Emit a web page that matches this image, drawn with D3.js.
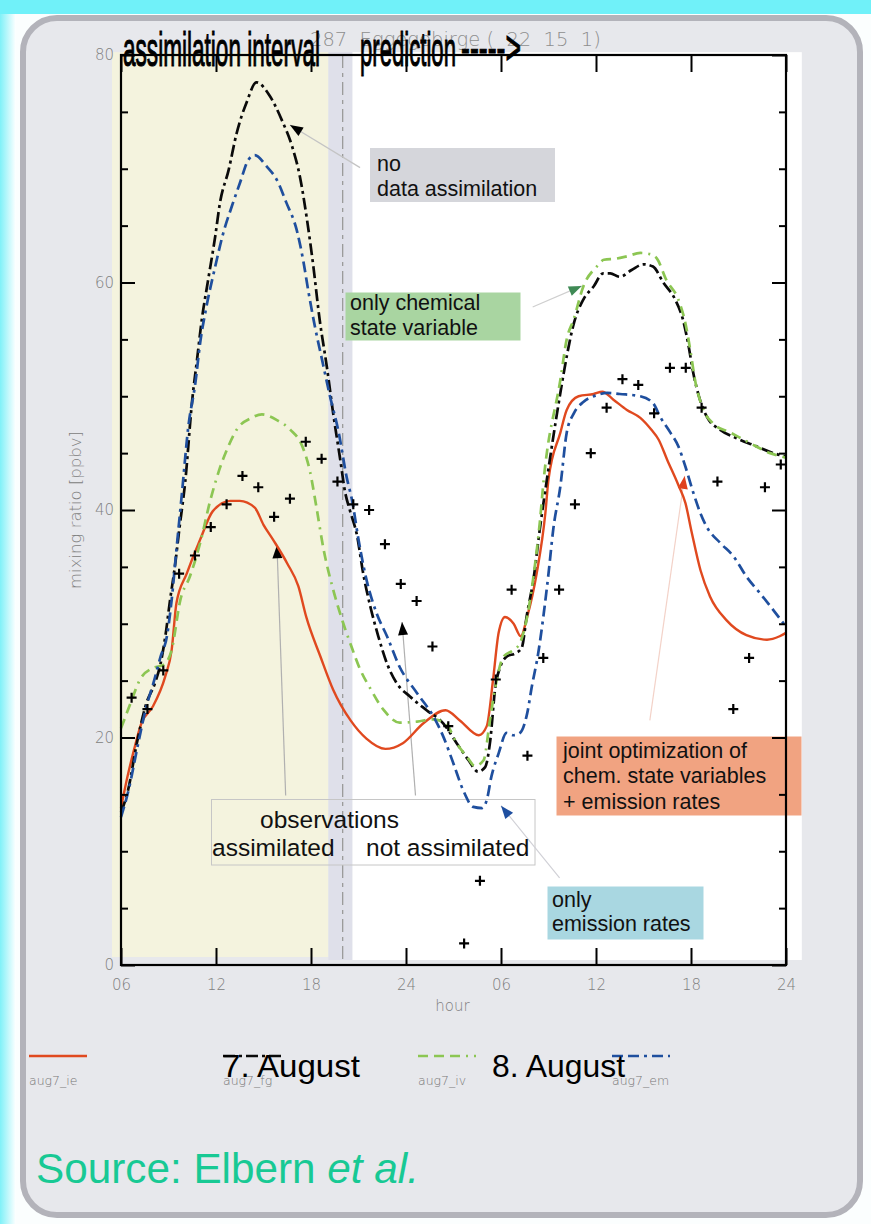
<!DOCTYPE html>
<html><head><meta charset="utf-8">
<script src="https://cdn.jsdelivr.net/npm/d3@7/dist/d3.min.js"></script>
<style>body{margin:0;background:#fff;} svg{display:block;}</style>
</head><body>
<svg id="chart" width="871" height="1224"></svg>
<script>
// ---------------- data ----------------
const hourTicks = [6, 12, 18, 24, 30, 36, 42, 48];
const hourLabels = ["06", "12", "18", "24", "06", "12", "18", "24"];
const yMajor = [0, 20, 40, 60, 80];
const yMinor = [5, 10, 15, 25, 30, 35, 45, 50, 55, 65, 70, 75];

const obsHours = [6.67, 7.67, 8.67, 9.67, 10.67, 11.67, 12.67, 13.67, 14.67, 15.67, 16.67, 17.67, 18.67, 19.67,
  20.67, 21.67, 22.67, 23.67, 24.67, 25.67, 26.67, 27.67, 28.67, 29.67, 30.67, 31.67, 32.67, 33.67,
  34.67, 35.67, 36.67, 37.67, 38.67, 39.67, 40.67, 41.67, 42.67, 43.67, 44.67, 45.67, 46.67, 47.67];
const obsValues = [23.5, 22.5, 25.9, 34.4, 36.0, 38.5, 40.5, 43.0, 42.0, 39.4, 41.0, 46.0, 44.5, 42.5,
  40.5, 40.0, 37.0, 33.5, 32.0, 28.0, 21.0, 1.9, 7.4, 25.1, 33.0, 18.4, 27.0, 33.0,
  40.5, 45.0, 49.0, 51.5, 51.0, 48.5, 52.5, 52.5, 49.0, 42.5, 22.5, 27.0, 42.0, 44.0];

// aug7_ie : joint optimization (red solid)
const aug7_ie = [[6,13.8],[6.4,16.5],[6.8,18.8],[7.3,21.3],[8.0,22.7],[8.8,25.4],[9.2,27.7],[9.5,31.8],[10.15,34.4],
  [11,37.4],[11.8,39.9],[12.9,40.8],[13.5,40.8],[14.45,40.2],[15,38.7],[15.6,37.4],[16.5,35.3],[17.2,33.3],[17.7,30.6],
  [18.6,27.1],[19.4,24.2],[20.5,21.5],[21.5,19.9],[22.7,19.0],[23.8,19.5],[25.1,21.25],[26.5,22.4],[27.4,21.5],
  [28.6,20.2],[29.1,21.0],[29.5,25.1],[29.85,29.2],[30.25,30.6],[30.8,30.0],[31.25,28.9],[31.65,30.6],[32.25,34.4],
  [32.8,39.7],[33.0,42.7],[33.75,46.8],[34.15,48.8],[34.9,50.0],[35.85,50.2],[36.4,50.4],[37.1,49.7],[37.95,48.8],
  [38.8,48.1],[39.5,47.05],[39.95,46.2],[40.5,44.4],[41.2,42.2],[41.65,40.6],[42.05,38.0],[42.6,34.7],[43.2,32.4],
  [44.25,30.3],[45.5,29.0],[46.8,28.6],[47.6,28.9],[48,29.2]];
// aug7_fg : no data assimilation (black dash-dot)
const aug7_fg = [[6,13.4],[6.45,15.4],[7,19.5],[7.6,23.0],[8.15,24.8],[8.5,26.5],[8.8,28.9],[9.1,32.1],[9.4,35.0],
  [9.7,38.5],[10.05,42.4],[10.5,49.7],[10.8,53.2],[11.1,56.7],[11.5,60.2],[11.95,64.05],[12.25,67.0],[12.8,69.9],
  [13.3,73.1],[13.95,75.9],[14.55,77.6],[15.4,76.4],[16.15,74.3],[16.8,72.0],[17.3,69.3],[17.75,65.5],[18.15,61.4],
  [18.55,56.7],[19.0,52.6],[19.4,48.5],[19.85,44.4],[20.15,41.6],[20.45,40.0],[20.9,37.8],[21.3,34.4],[21.75,31.5],
  [22.25,28.9],[22.8,26.5],[23.4,24.8],[24.25,23.6],[25.3,22.4],[26.35,21.25],[27.2,19.5],[27.95,18.0],[28.55,17.0],
  [29.0,17.4],[29.3,19.5],[29.65,24.5],[29.95,26.2],[30.35,27.1],[30.9,27.4],[31.3,27.85],[31.65,30.9],[32.05,33.9],
  [32.45,38.3],[32.9,42.7],[33.75,50.3],[34.15,53.5],[34.6,56.4],[35.2,58.5],[35.85,59.65],[36.45,60.8],[36.9,60.8],
  [37.5,60.5],[38.25,61.1],[39.0,61.6],[39.6,61.4],[40.25,60.0],[41.0,58.5],[41.5,56.7],[41.85,54.4],[42.15,52.0],
  [42.5,50.0],[43.0,48.2],[43.85,47.05],[44.9,46.3],[45.95,45.7],[47.2,45.0],[48,44.7]];
// aug7_iv : only chemical state variable (green dashed)
const aug7_iv = [[6,20.8],[6.6,23.0],[7.2,25.1],[8.0,26.1],[8.7,26.4],[9.2,27.7],[9.75,32.1],[10.35,34.15],[11,37.1],
  [11.65,40.9],[12.2,43.5],[12.75,45.5],[13.3,47.05],[14.25,48.1],[14.9,48.4],[15.85,47.9],[16.7,47.05],[17.45,45.6],
  [17.95,43.3],[18.3,40.6],[18.8,36.5],[19.4,33.0],[20.0,30.2],[20.5,28.2],[21.1,26.0],[21.75,24.3],[22.6,22.4],
  [23.6,21.3],[24.7,21.4],[25.7,21.6],[26.5,21.25],[27.2,19.5],[27.85,18.3],[28.35,17.5],[28.9,18.0],[29.3,21.5],
  [29.65,24.5],[30.15,27.1],[30.8,27.7],[31.2,28.3],[31.65,30.6],[32.05,34.15],[32.45,38.9],[32.7,42.7],[33.75,51.45],
  [34.15,55.0],[34.6,56.8],[35.2,59.65],[36.05,61.4],[36.5,62.0],[37.3,62.1],[37.95,62.3],[38.8,62.6],[39.4,62.5],
  [39.85,62.1],[40.45,60.2],[41.2,58.5],[41.65,56.4],[41.95,54.1],[42.25,51.45],[42.7,49.1],[43.4,47.6],[44.5,46.8],
  [45.7,45.9],[47.0,45.0],[48,44.6]];
// aug7_em : only emission rates (blue dash-dot)
const aug7_em = [[6,13.0],[6.5,15.5],[7,18.9],[7.6,22.7],[8.05,24.8],[8.5,27.1],[8.9,28.9],[9.2,32.1],[9.5,36.5],
  [9.85,41.5],[10.25,47.3],[10.7,51.2],[11,54.7],[11.4,57.9],[11.95,61.4],[12.45,64.3],[13.0,66.7],[13.5,68.7],
  [14.05,70.8],[14.45,71.2],[15.2,70.2],[15.85,69.0],[16.45,67.0],[17.1,64.6],[17.5,62.0],[17.85,59.1],[18.25,56.1],
  [18.7,53.2],[19.2,50.0],[19.75,46.8],[20.25,42.9],[20.6,40.8],[21.0,37.4],[21.5,33.9],[22.15,30.9],[22.8,28.9],
  [23.6,26.2],[24.7,23.9],[25.75,21.8],[26.35,20.1],[27.0,17.7],[27.6,15.4],[28.25,13.9],[28.8,13.8],[29.1,14.5],
  [29.4,16.6],[29.85,18.6],[30.35,20.4],[30.8,20.2],[31.2,20.4],[31.65,22.1],[31.95,24.5],[32.35,27.4],[32.7,30.9],
  [33.0,34.4],[33.3,38.3],[33.75,42.1],[34.15,46.8],[34.6,48.5],[35.2,49.5],[36.05,50.1],[36.7,50.3],[37.5,50.2],
  [38.8,50.0],[39.6,49.4],[40.05,48.2],[40.7,46.8],[41.2,45.6],[41.65,43.8],[42.15,41.5],[42.6,39.7],[43.0,38.5],
  [43.85,37.1],[44.7,35.9],[45.5,34.15],[46.35,32.7],[47.2,31.2],[48,29.75]];

const seriesNames = ["aug7_ie", "aug7_fg", "aug7_iv", "aug7_em"];
const seriesData = [aug7_ie, aug7_fg, aug7_iv, aug7_em];

// ---------------- styles / layout ----------------
const seriesStyle = {
  aug7_ie: {color: "#e0491f", width: 2.4, dash: null},
  aug7_fg: {color: "#0a0a0a", width: 2.7, dash: "12,4,3,4"},
  aug7_iv: {color: "#8cc653", width: 2.7, dash: "10,6,10,6,10,6,2,6"},
  aug7_em: {color: "#1f4f9e", width: 2.7, dash: "11,5,11,5,3,5"}
};

const svg = d3.select("#chart");
const X = d3.scaleLinear().domain([6, 48]).range([121, 786]);
const Y = d3.scaleLinear().domain([0, 80]).range([965, 55]);

const defs = svg.append("defs");
const lg = defs.append("linearGradient").attr("id", "leftGrad").attr("x1", 0).attr("x2", 1).attr("y1", 0).attr("y2", 0);
lg.append("stop").attr("offset", "0%").attr("stop-color", "#7ff1f8");
lg.append("stop").attr("offset", "100%").attr("stop-color", "#ffffff");

// page background
svg.append("rect").attr("width", 871).attr("height", 1224).attr("fill", "#fbfefe");
svg.append("rect").attr("x", 0).attr("y", 0).attr("width", 16).attr("height", 1224).attr("fill", "url(#leftGrad)");
svg.append("rect").attr("x", 0).attr("y", 0).attr("width", 871).attr("height", 14).attr("fill", "#70f1f9");
svg.append("rect").attr("x", 23).attr("y", 18).attr("width", 837).attr("height", 1197).attr("rx", 34)
  .attr("fill", "#e7e8ec").attr("stroke", "#b3b3ba").attr("stroke-width", 6);

// plot shading regions
const regions = [
  {from: 5.43, to: 19.1, top: 80.25, bottom: 0.7, fill: "#f4f3de"},
  {from: 19.1, to: 20.62, top: 80.25, bottom: 0.44, fill: "#dfe0ea"},
  {from: 20.62, to: 49.0, top: 80.25, bottom: 0.44, fill: "#ffffff"}
];
svg.append("g").selectAll("rect").data(regions).join("rect")
  .attr("x", d => X(d.from)).attr("width", d => X(d.to) - X(d.from))
  .attr("y", d => Y(d.top)).attr("height", d => Y(d.bottom) - Y(d.top))
  .attr("fill", d => d.fill);

// station title (gray, behind)
svg.append("text").attr("x", 310).attr("y", 46)
  .attr("font-family", "DejaVu Sans").attr("font-weight", 200).attr("font-size", 19.5)
  .attr("fill", "#8e8e8e").style("white-space", "pre")
  .text("287  Eggegebirge (  22  15  1)");

// vertical separator at hour 20
svg.append("line").attr("x1", X(20)).attr("x2", X(20)).attr("y1", Y(80)).attr("y2", Y(0))
  .attr("stroke", "#9a9a9a").attr("stroke-width", 1.3).attr("stroke-dasharray", "13,5,4,5");

// observations box (transparent)
svg.append("rect").attr("x", 211.5).attr("y", 799.5).attr("width", 323.5).attr("height", 65.5)
  .attr("fill", "none").attr("stroke", "#c6c6c6").attr("stroke-width", 1);

// arrows (annotation lines)
const arrows = [
  {from: [21.1, 70.1], to: [16.67, 73.85], line: "#c4c4c4", head: "#000"},
  {from: [32.0, 57.85], to: [35.1, 59.7], line: "#cfcfcf", head: "#3f8a55"},
  {from: [39.4, 21.5], to: [41.6, 43.0], line: "#f3d2c8", head: "#e0401c"},
  {from: [33.7, 7.65], to: [30.0, 14.0], line: "#d0d0d6", head: "#1f4fa0"},
  {from: [16.4, 14.9], to: [15.85, 36.9], line: "#b0b0b0", head: "#000"},
  {from: [24.6, 14.9], to: [23.75, 30.15], line: "#b0b0b0", head: "#000"}
];
const gArr = svg.append("g");
arrows.forEach(a => {
  const x1 = X(a.from[0]), y1 = Y(a.from[1]), x2 = X(a.to[0]), y2 = Y(a.to[1]);
  gArr.append("line").attr("x1", x1).attr("y1", y1).attr("x2", x2).attr("y2", y2)
    .attr("stroke", a.line).attr("stroke-width", 1.2);
  const ang = Math.atan2(y2 - y1, x2 - x1) * 180 / Math.PI;
  gArr.append("path").attr("d", "M0,0 L-13,-5 L-13,5 Z")
    .attr("transform", `translate(${x2},${y2}) rotate(${ang})`).attr("fill", a.head);
});

// series lines
const line = d3.line().x(d => X(d[0])).y(d => Y(d[1])).curve(d3.curveMonotoneX);
const gLines = svg.append("g");
seriesNames.forEach((name, i) => {
  const st = seriesStyle[name];
  gLines.append("path").datum(seriesData[i]).attr("d", line)
    .attr("fill", "none").attr("stroke", st.color).attr("stroke-width", st.width)
    .attr("stroke-dasharray", st.dash).attr("stroke-linejoin", "round");
});

// observation crosses
const obs = obsHours.map((h, i) => [h, obsValues[i]]);
svg.append("g").selectAll("path").data(obs).join("path")
  .attr("d", d => `M${X(d[0]) - 5},${Y(d[1])}H${X(d[0]) + 5}M${X(d[0])},${Y(d[1]) - 5}V${Y(d[1]) + 5}`)
  .attr("stroke", "#000").attr("stroke-width", 2.2).attr("fill", "none");

// annotation text boxes
const boxFont = "'Liberation Sans', Arial, sans-serif";
const boxes = [
  {x: 370, y: 148, w: 185, h: 54, fill: "#d5d6db", tx: 377, lines: ["no", "data assimilation"], base: [171, 196]},
  {x: 345.5, y: 292.5, w: 175, h: 48, fill: "#a9d5a1", tx: 350, lines: ["only chemical", "state variable"], base: [310, 335]},
  {x: 556.5, y: 736.5, w: 245, h: 79, fill: "#f1a381", tx: 563, lines: ["joint optimization of", "chem. state variables", "+ emission rates"], base: [758, 783, 809]},
  {x: 547.5, y: 886.5, w: 156, h: 53, fill: "#a9d7e1", tx: 552, lines: ["only", "emission rates"], base: [907, 931]}
];
const gBox = svg.append("g");
boxes.forEach(b => {
  gBox.append("rect").attr("x", b.x).attr("y", b.y).attr("width", b.w).attr("height", b.h).attr("fill", b.fill);
  b.lines.forEach((t, i) => {
    gBox.append("text").attr("x", b.tx).attr("y", b.base[i]).attr("font-family", boxFont)
      .attr("font-size", 21.5).attr("fill", "#111").text(t);
  });
});
const obsText = [
  {x: 260, y: 828, t: "observations"},
  {x: 212, y: 856, t: "assimilated"},
  {x: 366, y: 856, t: "not assimilated"}
];
svg.append("g").selectAll("text").data(obsText).join("text")
  .attr("x", d => d.x).attr("y", d => d.y).attr("font-family", boxFont).attr("font-size", 24.5)
  .attr("fill", "#111").text(d => d.t);

// axes
const tickFont = "DejaVu Sans";
const gAx = svg.append("g");
const styleAxis = g => {
  g.select(".domain").remove();
  g.selectAll(".tick line").attr("stroke", "#000").attr("stroke-width", 2);
  g.selectAll(".tick text").attr("font-family", tickFont).attr("font-weight", 200)
    .attr("font-size", 15).attr("fill", "#808080");
};
gAx.append("g").attr("transform", `translate(${X(6)},0)`)
  .call(d3.axisLeft(Y).tickValues(yMinor).tickSize(-7).tickFormat("")).call(styleAxis);
gAx.append("g").attr("transform", `translate(${X(6)},0)`)
  .call(d3.axisLeft(Y).tickValues(yMajor).tickSize(-14).tickPadding(7).tickFormat(d3.format("d"))).call(styleAxis);
gAx.append("g").attr("transform", `translate(${X(48)},0)`)
  .call(d3.axisRight(Y).tickValues(yMinor).tickSize(-7).tickFormat("")).call(styleAxis);
gAx.append("g").attr("transform", `translate(${X(48)},0)`)
  .call(d3.axisRight(Y).tickValues(yMajor).tickSize(-14).tickFormat("")).call(styleAxis);
gAx.append("g").attr("transform", `translate(0,${Y(0)})`)
  .call(d3.axisBottom(X).tickValues(hourTicks).tickSize(-17).tickPadding(14).tickFormat((d, i) => hourLabels[i])).call(styleAxis);
gAx.append("g").attr("transform", `translate(0,${Y(80)})`)
  .call(d3.axisTop(X).tickValues(hourTicks).tickSize(-17).tickFormat("")).call(styleAxis);
svg.append("rect").attr("x", X(6)).attr("y", Y(80)).attr("width", X(48) - X(6)).attr("height", Y(0) - Y(80))
  .attr("fill", "none").attr("stroke", "#000").attr("stroke-width", 2.2);

// axis titles
svg.append("text").attr("x", (X(6) + X(48)) / 2 - 1).attr("y", 1011).attr("text-anchor", "middle")
  .attr("font-family", tickFont).attr("font-weight", 200).attr("font-size", 15).attr("fill", "#808080").text("hour");
svg.append("text").attr("transform", `translate(81,${(Y(0) + Y(80)) / 2}) rotate(-90)`).attr("text-anchor", "middle")
  .attr("font-family", tickFont).attr("font-weight", 200).attr("font-size", 16).attr("fill", "#808080")
  .attr("textLength", 158).attr("lengthAdjust", "spacingAndGlyphs").text("mixing ratio [ppbv]");

// big header texts
const bigFont = "'Liberation Sans', Arial, sans-serif";
const headers = [
  {x: 123, y: 66, len: 197, t: "assimilation interval"},
  {x: 360, y: 66, len: 96, t: "prediction"},
  {x: 461, y: 64, len: 60, t: "----->"}
];
svg.append("g").selectAll("text").data(headers).join("text")
  .attr("x", d => d.x).attr("y", d => d.y).attr("font-family", bigFont).attr("font-size", 48)
  .attr("textLength", d => d.len).attr("lengthAdjust", "spacingAndGlyphs")
  .attr("fill", "#000").attr("stroke", "#000").attr("stroke-width", 1.1).text(d => d.t);

// legend
const legendX = [29, 223, 418, 612];
const gLeg = svg.append("g");
seriesNames.forEach((name, i) => {
  const st = seriesStyle[name];
  gLeg.append("line").attr("x1", legendX[i]).attr("x2", legendX[i] + 58).attr("y1", 1056).attr("y2", 1056)
    .attr("stroke", st.color).attr("stroke-width", st.width).attr("stroke-dasharray", st.dash);
  gLeg.append("text").attr("x", legendX[i]).attr("y", 1085).attr("font-family", tickFont).attr("font-weight", 200)
    .attr("font-size", 12.5).attr("fill", "#777").text(name);
});
const dayLabels = [{x: 222, len: 138, t: "7. August"}, {x: 492, len: 133, t: "8. August"}];
gLeg.selectAll("text.day").data(dayLabels).join("text").attr("class", "day")
  .attr("x", d => d.x).attr("y", 1077).attr("font-family", bigFont).attr("font-size", 31)
  .attr("textLength", d => d.len).attr("lengthAdjust", "spacingAndGlyphs").attr("fill", "#000").text(d => d.t);

// source
const src = svg.append("text").attr("x", 36).attr("y", 1183).attr("font-family", bigFont)
  .attr("font-size", 42).attr("textLength", 383).attr("lengthAdjust", "spacingAndGlyphs").attr("fill", "#18c994");
src.append("tspan").text("Source: Elbern ");
src.append("tspan").attr("font-style", "italic").text("et al.");
</script>
</body></html>
